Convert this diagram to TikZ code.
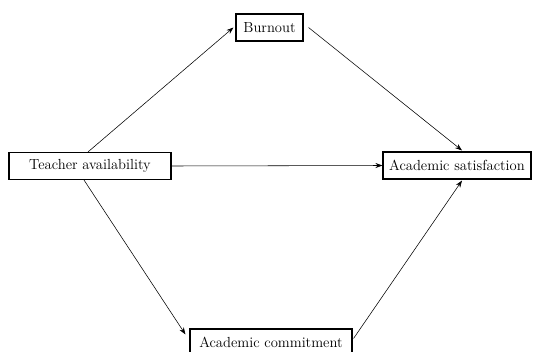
\documentclass[tikz,border=0pt]{standalone}
\usetikzlibrary{arrows.meta,calc}
\begin{document}
\begin{tikzpicture}[x=1pt,y=-1pt,
  box/.style={draw,line width=1.1pt,inner sep=0pt,font=\fontsize{14.6}{16}\selectfont},
  arr/.style={line width=0.55pt,-{Stealth[length=7pt,width=5pt]}}]
\useasboundingbox (0,0) rectangle (538,351);
\node[box,minimum width=162pt,minimum height=27pt] (teach) at (90,166) {Teacher availability};
\node[box,minimum width=67pt,minimum height=27pt] (burn) at (269.5,27.5) {Burnout};
\node[box,minimum width=148pt,minimum height=27pt] (sat) at (457,165.5) {Academic satisfaction};
\node[box,minimum width=162pt,minimum height=27pt] (comm) at (271,342.5) {Academic commitment};
\draw[arr] ($(teach.north)+(-2,0)$) -- ($(burn.west)+(-2,0)$);
\draw[arr] ($(burn.east)+(5,0)$) -- ($(sat.north)+(5,-1)$);
\draw[arr] (teach.east) -- (sat.west);
\draw[arr] ($(teach.south)+(-6,0)$) -- ($(comm.north west)+(-4,6)$);
\draw[arr] ($(comm.north east)+(1,10)$) -- ($(sat.south)+(5,1)$);
\end{tikzpicture}
\end{document}
